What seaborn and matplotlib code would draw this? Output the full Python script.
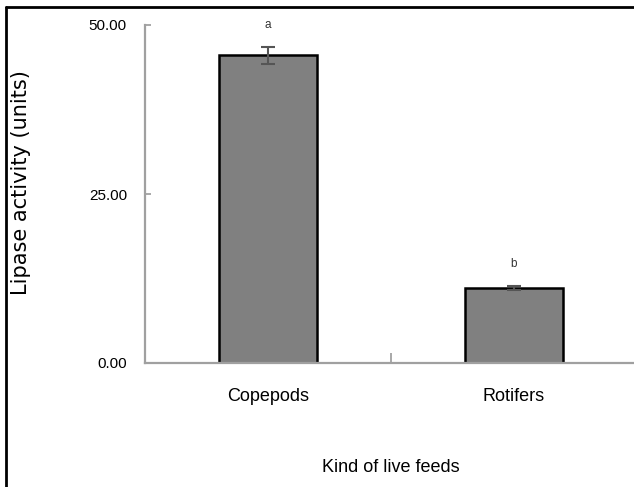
import matplotlib
matplotlib.use("Agg")
import matplotlib.pyplot as plt
import seaborn as sns
import pandas as pd
from matplotlib.lines import Line2D

feeds = ["Copepods", "Rotifers"]
lipase = [45.5, 11.1]
errors = [1.2, 0.25]
letters = ["a", "b"]
yticks = [0, 25, 50]
ytick_labels = ["0.00", "25.00", "50.00"]

sns.set_theme(style="white")
plt.rcParams["font.family"] = ["Liberation Sans", "DejaVu Sans"]
plt.rcParams["text.color"] = "black"
plt.rcParams["xtick.labelcolor"] = "black"
plt.rcParams["ytick.labelcolor"] = "black"

df = pd.DataFrame({"feed": feeds, "lipase": lipase})

fig = plt.figure(figsize=(6.34, 4.87), dpi=100)
ax = fig.add_axes([145 / 634, 124 / 487, 492 / 634, 338 / 487])

sns.barplot(data=df, x="feed", y="lipase", ax=ax, color="#808080",
            saturation=1, width=0.40, edgecolor="black", linewidth=1.8,
            errorbar=None)
ax.errorbar(range(len(feeds)), lipase, yerr=errors, fmt="none",
            ecolor="#555555", elinewidth=1.5, capsize=5, capthick=1.5)
for i, (v, e, t) in enumerate(zip(lipase, errors, letters)):
    ax.text(i, v + e + 3.3, t, ha="center", va="center", fontsize=8.5,
            color="#333333")

ax.set_xlim(-0.5, 1.5)
ax.set_ylim(0, 50)
ax.set_yticks(yticks)
ax.set_yticklabels(ytick_labels, fontsize=11, color="black")
ax.set_xticks([0, 1])
ax.set_xticklabels(feeds, fontsize=13, color="black")
ax.set_xticks([0.5], minor=True)
ax.tick_params(axis="x", which="major", length=0, pad=18)
ax.tick_params(axis="x", which="minor", direction="in", length=7,
               width=1.2, color="#999999", bottom=True)
ax.tick_params(axis="y", direction="in", length=4, width=1.2,
               color="#999999", pad=13, left=True)
ax.set_xlabel("")
ax.set_ylabel("")

for s in ["top", "right"]:
    ax.spines[s].set_visible(False)
for s in ["left", "bottom"]:
    ax.spines[s].set_color("#a0a0a0")
    ax.spines[s].set_linewidth(1.6)

fig.text(391 / 634, 1 - 468 / 487, "Kind of live feeds", ha="center",
         va="center", fontsize=13, color="black")
fig.text(21 / 634, 1 - 183 / 487, "Lipase activity (units)", ha="center",
         va="center", rotation=90, fontsize=15, color="black",
         family=["DejaVu Sans"])

# figure frame (left and top)
fig.add_artist(Line2D([6 / 634, 6 / 634], [0, 1 - 7 / 487],
                      transform=fig.transFigure, color="black", lw=2))
fig.add_artist(Line2D([6 / 634, 1], [1 - 7 / 487, 1 - 7 / 487],
                      transform=fig.transFigure, color="black", lw=2))

fig.savefig("out.png", dpi=100)
